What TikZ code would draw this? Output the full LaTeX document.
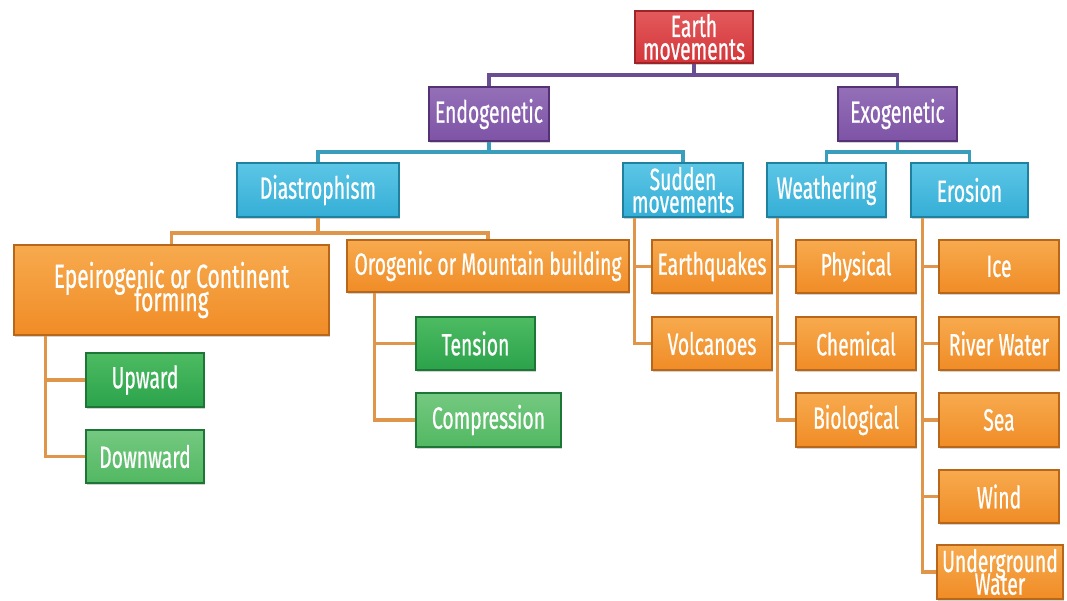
\documentclass[tikz,border=0pt]{standalone}
\usepackage{fontspec}
\setmainfont{Fira Sans}[FakeStretch=0.63,FakeBold=0.6]
\usetikzlibrary{calc,shadows}
\newcommand\tightlines{\lineskiplimit -30pt\relax\lineskip 0pt\relax}
\newcommand\boxfont{\fontsize{23}{17}\selectfont\tightlines}
\newcommand\bigboxfont{\fontsize{25}{17.5}\selectfont\tightlines}
\definecolor{redB}{HTML}{D3363A}\definecolor{redL}{HTML}{E35A5C}\definecolor{redD}{HTML}{9E2427}
\definecolor{purB}{HTML}{7E53A6}\definecolor{purL}{HTML}{9470B8}\definecolor{purD}{HTML}{553276}
\definecolor{teaB}{HTML}{35AED6}\definecolor{teaL}{HTML}{5CC6E6}\definecolor{teaD}{HTML}{20809F}
\definecolor{oraB}{HTML}{F08C26}\definecolor{oraL}{HTML}{F7AA4E}\definecolor{oraD}{HTML}{B8661A}
\definecolor{grnB}{HTML}{2BA34B}\definecolor{grnL}{HTML}{4DBB62}\definecolor{grnD}{HTML}{1D7635}
\definecolor{gr2B}{HTML}{52B862}\definecolor{gr2L}{HTML}{74C980}
\definecolor{linP}{HTML}{6A4E92}\definecolor{linT}{HTML}{3A9DBC}\definecolor{linO}{HTML}{E0964A}
\begin{document}
\begin{tikzpicture}[x=0.75pt,y=-0.75pt,
  box/.style={rectangle, inner sep=0pt, text=white, font=\boxfont,
    align=center, line width=0.8pt,
    drop shadow={shadow xshift=1pt, shadow yshift=-1.8pt, opacity=0.35}},
  wd/.style={minimum width=#1*0.75pt},
  ht/.style={minimum height=#1*0.75pt},
  cred/.style={box, top color=redL, bottom color=redB, draw=redD},
  cpur/.style={box, top color=purL, bottom color=purB, draw=purD},
  ctea/.style={box, top color=teaL, bottom color=teaB, draw=teaD},
  cora/.style={box, top color=oraL, bottom color=oraB, draw=oraD},
  cgrn/.style={box, top color=grnL, bottom color=grnB, draw=grnD},
  cgr2/.style={box, top color=gr2L, bottom color=gr2B, draw=grnD},
  lp/.style={draw=linP, line width=2.4pt},
  lt/.style={draw=linT, line width=2.4pt},
  lo/.style={draw=linO, line width=2.4pt},
]
\useasboundingbox (0,0) rectangle (1067,600);
\clip (0,0) rectangle (1067,600);
\fill[white] (0,0) rectangle (1067,600);
% levels
\coordinate (y75) at (0,75);
\coordinate (y152) at (0,152);
\coordinate (y233) at (0,233);
\path
 (694,37) node[cred, wd=118, ht=52] (earth) {Earth\\movements}
 (489,114) node[cpur, wd=120, ht=54] (endo) {Endogenetic}
 (897.5,114) node[cpur, wd=119, ht=54] (exo) {Exogenetic}
 (318,190) node[ctea, wd=162, ht=54] (dias) {Diastrophism}
 (683,190) node[ctea, wd=120, ht=54] (sudden) {Sudden\\movements}
 (826.5,190) node[ctea, wd=119, ht=54] (weath) {Weathering}
 (969.5,190) node[ctea, wd=117, ht=54] (eros) {Erosion}
 (171.5,290) node[cora, wd=315, ht=90, font=\bigboxfont] (epei) {Epeirogenic or Continent\\forming}
 (488,266) node[cora, wd=282, ht=52] (orog) {Orogenic or Mountain building}
 (145,380) node[cgrn, wd=118, ht=54] (up) {Upward}
 (145,456.5) node[cgr2, wd=118, ht=53] (down) {Downward}
 (475.5,343.5) node[cgrn, wd=119, ht=53] (tens) {Tension}
 (488.5,420) node[cgr2, wd=145, ht=54] (comp) {Compression}
 (712,266.5) node[cora, wd=120, ht=53] (quake) {Earthquakes}
 (712,343.5) node[cora, wd=120, ht=53] (volc) {Volcanoes}
 (856,266.5) node[cora, wd=120, ht=53] (phys) {Physical}
 (856,343.5) node[cora, wd=120, ht=53] (chem) {Chemical}
 (856,420) node[cora, wd=120, ht=54] (bio) {Biological}
 (999,266.5) node[cora, wd=120, ht=53] (ice) {Ice}
 (999,343.5) node[cora, wd=120, ht=53] (river) {River Water}
 (999,420) node[cora, wd=120, ht=54] (sea) {Sea}
 (999,496.5) node[cora, wd=120, ht=53] (wind) {Wind}
 (1000,572) node[cora, wd=126, ht=54] (under) {Underground\\Water};
% purple
\draw[lp] (earth.south) -- (earth.south |- y75) -| (endo.north);
\draw[lp] (earth.south |- y75) -| (exo.north);
% teal
\draw[lt] (endo.south) -- (endo.south |- y152) -| (dias.north);
\draw[lt] (endo.south |- y152) -| (sudden.north);
\draw[lt] (exo.south) -- (exo.south |- y152) -| (weath.north);
\draw[lt] (exo.south |- y152) -| (eros.north);
% orange
\draw[lo] (dias.south) -- (dias.south |- y233) -| (epei.north);
\draw[lo] (dias.south |- y233) -| (orog.north);
\coordinate (se) at ($(epei.south west)+(32,0)$);
\draw[lo] (se) |- (up.west); \draw[lo] (se) |- (down.west);
\coordinate (so) at ($(orog.south west)+(28,0)$);
\draw[lo] (so) |- (tens.west); \draw[lo] (so) |- (comp.west);
\coordinate (ss) at ($(sudden.south west)+(12,0)$);
\draw[lo] (ss) |- (quake.west); \draw[lo] (ss) |- (volc.west);
\coordinate (sw) at ($(weath.south west)+(11,0)$);
\draw[lo] (sw) |- (phys.west); \draw[lo] (sw) |- (chem.west); \draw[lo] (sw) |- (bio.west);
\coordinate (sr) at ($(eros.south west)+(12,0)$);
\draw[lo] (sr) |- (ice.west); \draw[lo] (sr) |- (river.west); \draw[lo] (sr) |- (sea.west);
\draw[lo] (sr) |- (wind.west); \draw[lo] (sr) |- (under.west);
\end{tikzpicture}
\end{document}
